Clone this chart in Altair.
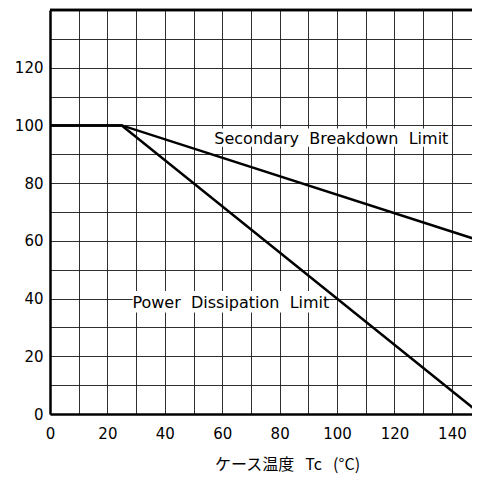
import altair as alt
import pandas as pd

# Derating curves (case temperature °C, % of rated)
sb_temp = [0, 25, 150]
sb_pct = [100, 100, 60]
pd_temp = [0, 25, 150]
pd_pct = [100, 100, 0]

x_ticks = list(range(0, 150, 10))
y_ticks = list(range(0, 150, 10))

label_text = ["Secondary\u00a0 Breakdown\u00a0 Limit", "Power\u00a0 Dissipation\u00a0 Limit"]
label_x = [98, 63]
label_y = [95.3, 38.6]
box_x1 = [57.5, 28.8]
box_x2 = [139.5, 95.5]
box_y1 = [92.6, 35.2]
box_y2 = [98.9, 42.6]

lines = pd.DataFrame({
    "temp": sb_temp + pd_temp,
    "pct": sb_pct + pd_pct,
    "curve": ["sb"] * len(sb_temp) + ["pd"] * len(pd_temp),
})
labels = pd.DataFrame({
    "text": label_text, "x": label_x, "y": label_y,
    "x1": box_x1, "x2": box_x2, "y1": box_y1, "y2": box_y2,
})

X_DOM = [0, 147]
Y_DOM = [0, 140]

xs = alt.Scale(domain=X_DOM, nice=False, zero=False)
ys = alt.Scale(domain=Y_DOM, nice=False, zero=False)

x_axis = alt.Axis(
    values=x_ticks, grid=True, ticks=False, domain=True,
    labelExpr="datum.value % 20 == 0 ? datum.label : ''",
    labelFontSize=15, labelFont="DejaVu Sans", labelColor="black",
    labelPadding=12, labelFlush=False, labelOverlap=False,
    gridColor="#1a1a1a", gridWidth=1, gridOpacity=0.9,
    domainColor="black", domainWidth=2.5,
    title="ケース温度\u2002\u2009Tc\u2002\u2009(°C)", titleFont="Noto Sans CJK JP",
    titleFontSize=16, titleFontWeight="normal", titleColor="black",
    titleX=237, titleY=50, titleAnchor="middle", titleBaseline="middle",
)
y_axis = alt.Axis(
    values=y_ticks, grid=True, ticks=False, domain=True,
    labelExpr="datum.value % 20 == 0 && datum.value < 140 ? datum.label : ''",
    labelFontSize=15, labelFont="DejaVu Sans", labelColor="black",
    labelPadding=7, labelFlush=False, labelOverlap=False,
    gridColor="#1a1a1a", gridWidth=1, gridOpacity=0.9,
    domainColor="black", domainWidth=2.5, title=None,
)

boxes = alt.Chart(labels).mark_rect(color="white").encode(
    x=alt.X("x1:Q", scale=xs, axis=x_axis), x2="x2:Q",
    y=alt.Y("y1:Q", scale=ys, axis=y_axis), y2="y2:Q",
)

texts = alt.Chart(labels).mark_text(
    font="DejaVu Sans", fontSize=16, color="black", align="center", baseline="middle"
).encode(
    x=alt.X("x:Q", scale=xs, axis=x_axis), y=alt.Y("y:Q", scale=ys, axis=y_axis), text="text:N",
)

curves = alt.Chart(lines).mark_line(color="black", strokeWidth=2.5, clip=True).encode(
    x=alt.X("temp:Q", scale=xs, axis=x_axis),
    y=alt.Y("pct:Q", scale=ys, axis=y_axis),
    detail="curve:N",
)

top = alt.Chart(labels).mark_rule(color="black", strokeWidth=2.5).encode(
    y=alt.datum(140, scale=ys, axis=y_axis),
)

chart = alt.layer(boxes, texts, curves, top).properties(
    width=422, height=404,
    autosize=alt.AutoSizeParams(type="none"),
    padding={"left": 42, "top": 2, "right": 0, "bottom": 61},
).configure_view(stroke=None)

chart.save("out.html", embed_options={"renderer": "svg", "actions": False})
